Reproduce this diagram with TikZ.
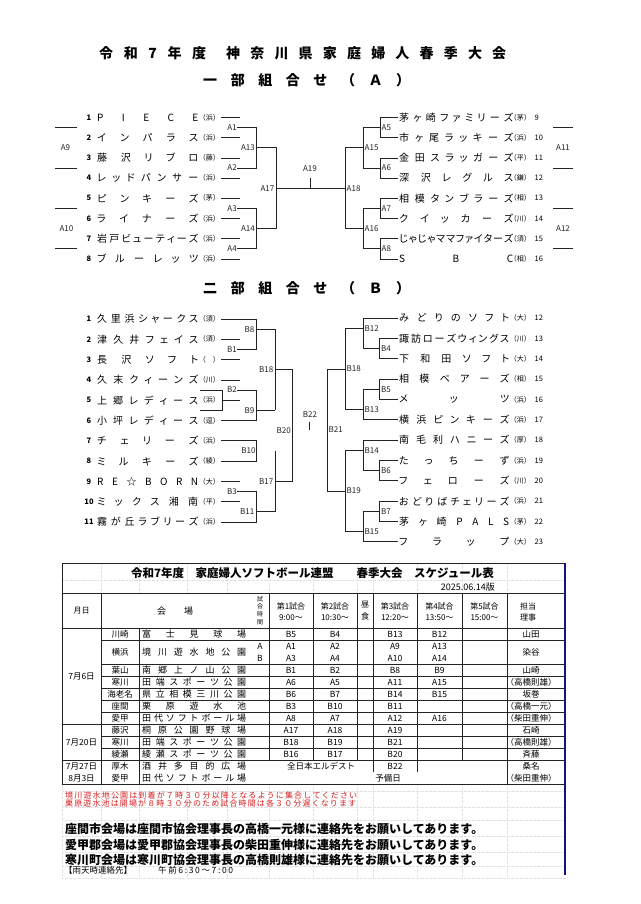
\documentclass[tikz,border=0pt]{standalone}
\usepackage{fontspec}
\setmainfont{Noto Sans CJK JP}
\newfontfamily\paltfont{Noto Sans CJK JP}[RawFeature=+palt]
\definecolor{navyb}{RGB}{20,20,120}
\definecolor{notered}{RGB}{215,30,30}
\definecolor{lnc}{RGB}{35,35,35}

\ExplSyntaxOn
\bool_new:N \l__my_first_bool
\NewDocumentCommand \dist { m m }
  {
    \makebox[#1][s]
      {
        \bool_set_true:N \l__my_first_bool
        \tl_map_inline:nn {#2}
          {
            \bool_if:NTF \l__my_first_bool
              { \bool_set_false:N \l__my_first_bool }
              { \hfill }
            ##1
          }
      }
  }
\ExplSyntaxOff

\tikzset{
  ln/.style={line width=0.75pt, draw=lnc},
  lbl/.style={font=\fontsize{8}{8}\selectfont, inner sep=0pt, text=lnc},
  team/.style={font=\paltfont\fontsize{10}{10}\selectfont, inner sep=0pt, anchor=west},
  prn/.style={font=\fontsize{7}{7}\selectfont, inner sep=0pt, anchor=east},
  numl/.style={font=\fontsize{7.5}{7.5}\selectfont\bfseries, inner sep=0pt},
  numr/.style={font=\fontsize{7.5}{7.5}\selectfont, inner sep=0pt, anchor=west},
  ttl/.style={font=\fontsize{14}{14}\selectfont\bfseries, inner sep=0pt, anchor=west},
  cell/.style={font=\fontsize{8.5}{8.5}\selectfont, inner sep=0pt},
  jcell/.style={font=\fontsize{8.5}{8.5}\selectfont, inner sep=0pt},
  venue/.style={font=\fontsize{9}{9}\selectfont, inner sep=0pt, anchor=west},
  hd/.style={font=\fontsize{8}{11}\selectfont, inner sep=0pt, align=center},
  tb/.style={line width=0.7pt, draw=lnc},
  gridl/.style={line width=0.3pt, draw=gray!22, densely dotted},
}

\newcommand\lteam[5]{%
  \node[numl] (n#1) at (89,#2) {#3};
  \node[team] (t#1) at (97,#2) {\dist{101pt}{#4}};
  \node[prn] (p#1) at (220,#2) {#5};}
\newcommand\rteam[6]{%
  \node[team] (t#1) at (399,#2) {\dist{#6}{#3}};
  \node[prn] (p#1) at (531,#2) {#4};
  \node[numr] (n#1) at (534.5,#2) {#5};}

\begin{document}
\begin{tikzpicture}[x=1pt,y=-1pt]
\fill[white] (0,0) rectangle (640,904);
\useasboundingbox (0,0) rectangle (640,904);

% ---------- titles
\node[ttl] (title1) at (99,53) {\dist{107pt}{令和7年度}};
\node[ttl] (title2) at (226,53) {\dist{280pt}{神奈川県家庭婦人春季大会}};
\node[ttl] (subA) at (203,80) {\dist{207pt}{一部組合せ（Ａ）}};
\node[ttl] (subB) at (203,288.5) {\dist{207pt}{二部組合せ（Ｂ）}};

% ---------- bracket A, left
\lteam{A1}{117.5}{1}{PIECE}{（浜）}
\lteam{A2}{137.7}{2}{インパラス}{（浜）}
\lteam{A3}{157.9}{3}{藤沢リブロ}{（藤）}
\lteam{A4}{178.1}{4}{レッドパンサー}{（浜）}
\lteam{A5}{198.3}{5}{ピンキーズ}{（茅）}
\lteam{A6}{218.5}{6}{ライナーズ}{（浜）}
\lteam{A7}{238.7}{7}{岩戸ビューティーズ}{（浜）}
\lteam{A8}{258.9}{8}{ブルーレッツ}{（浜）}
\foreach \i in {1,...,8} \draw[ln] ([xshift=1pt]pA\i.east) -- ++(19,0);

\node[lbl,anchor=east] (lA1) at (237,127.6) {A1};
\node[lbl,anchor=east] (lA2) at (237,168) {A2};
\node[lbl,anchor=east] (lA3) at (237,208.4) {A3};
\node[lbl,anchor=east] (lA4) at (237,248.8) {A4};
\draw[ln] (lA1.east) -- (256,127.6) -- (256,168) -- (lA2.east);
\draw[ln] (lA3.east) -- (256,208.4) -- (256,248.8) -- (lA4.east);
\node[lbl,anchor=east] (lA13) at (255,147.8) {A13};
\node[lbl,anchor=east] (lA14) at (255,228.6) {A14};
\draw[ln] (256,147.8) -- (276,147.8) -- (276,228.6) -- (256,228.6);
\node[lbl,anchor=east] (lA17) at (274.5,188.2) {A17};
\draw[ln] (276,188.2) -- (345,188.2);
\node[lbl] (lA19) at (310,168.5) {A19};
\draw[ln] (310,178) -- (310,188.2);

% ---------- bracket A, right
\rteam{A9}{117.5}{茅ヶ崎ファミリーズ}{（茅）}{9}{114pt}
\rteam{A10}{137.7}{市ヶ尾ラッキーズ}{（浜）}{10}{114pt}
\rteam{A11}{157.9}{金田スラッガーズ}{（平）}{11}{114pt}
\rteam{A12}{178.1}{深沢レグルス}{（鎌）}{12}{114pt}
\rteam{A13}{198.3}{相模タンブラーズ}{（相）}{13}{114pt}
\rteam{A14}{218.5}{クイッカーズ}{（川）}{14}{114pt}
\rteam{A15}{238.7}{じゃじゃママファイターズ}{（須）}{15}{114pt}
\rteam{A16}{258.9}{SBC}{（相）}{16}{114pt}

\draw[ln] (345,147.8) -- (345,228.6);
\node[lbl,anchor=west] (lA18) at (346.5,188.2) {A18};
\draw[ln] (345,147.8) -- (363,147.8) (345,228.6) -- (363,228.6);
\node[lbl,anchor=west] (lA15) at (364.5,147.8) {A15};
\node[lbl,anchor=west] (lA16) at (364.5,228.6) {A16};
\draw[ln] (380,127.6) -- (363,127.6) -- (363,168) -- (380,168);
\draw[ln] (380,208.4) -- (363,208.4) -- (363,248.8) -- (380,248.8);
\node[lbl,anchor=west] (lA5) at (381.5,127.6) {A5};
\node[lbl,anchor=west] (lA6) at (381.5,168) {A6};
\node[lbl,anchor=west] (lA7) at (381.5,208.4) {A7};
\node[lbl,anchor=west] (lA8) at (381.5,248.8) {A8};
\draw[ln] ([xshift=-1.5pt]tA9.west) -- (380,117.5) -- (380,137.7) -- ([xshift=-1.5pt]tA10.west);
\draw[ln] ([xshift=-1.5pt]tA11.west) -- (380,157.9) -- (380,178.1) -- ([xshift=-1.5pt]tA12.west);
\draw[ln] ([xshift=-1.5pt]tA13.west) -- (380,198.3) -- (380,218.5) -- ([xshift=-1.5pt]tA14.west);
\draw[ln] ([xshift=-1.5pt]tA15.west) -- (380,238.7) -- (380,258.9) -- ([xshift=-1.5pt]tA16.west);

% side slots
\node[lbl] (lA9) at (65.5,147.8) {A9};
\draw[ln] (55,127.6) -- (77,127.6) (55,168) -- (77,168);
\node[lbl] (lA10) at (66.5,228.6) {A10};
\draw[ln] (55,208.4) -- (77,208.4) (55,248.8) -- (77,248.8);
\node[lbl] (lA11) at (563,147.8) {A11};
\draw[ln] (553,127.6) -- (573,127.6) (553,168) -- (573,168);
\node[lbl] (lA12) at (563,228.6) {A12};
\draw[ln] (553,208.4) -- (573,208.4) (553,248.8) -- (573,248.8);

% ---------- bracket B, left
\lteam{B1}{319}{1}{久里浜シャークス}{（須）}
\lteam{B2}{339.3}{2}{津久井フェイス}{（須）}
\lteam{B3}{359.6}{3}{長沢ソフト}{（　）}
\lteam{B4}{379.9}{4}{久末クィーンズ}{（川）}
\lteam{B5}{400.2}{5}{上郷レディース}{（浜）}
\lteam{B6}{420.5}{6}{小坪レディース}{（逗）}
\lteam{B7}{440.8}{7}{チェリーズ}{（浜）}
\lteam{B8}{461.1}{8}{ミルキーズ}{（綾）}
\lteam{B9}{481.4}{9}{RE☆BORN}{（大）}
\lteam{B10}{501.7}{10}{ミックス湘南}{（平）}
\lteam{B11}{522}{11}{霧が丘ラブリーズ}{（浜）}
\foreach \i in {2,3,4,9,10} \draw[ln] ([xshift=1pt]pB\i.east) -- ++(19,0);
\draw[ln] (222,400.2) -- (240,400.2);
\draw[ln] (200,390) -- (222,390) -- (222,410.3) -- (200,410.3);

\node[lbl,anchor=east] (lB1) at (237,349.45) {B1};
\draw[ln] ([xshift=1pt]pB1.east) -- (256,319) -- (256,349.45) -- (lB1.east);
\node[lbl,anchor=east] (lB8) at (254.5,329.15) {B8};
\draw[ln] (256,329.15) -- (275,329.15);
\node[lbl,anchor=east] (lB2) at (237,390.05) {B2};
\draw[ln] (lB2.east) -- (256,390.05) -- (256,420.5) -- ([xshift=1pt]pB6.east);
\node[lbl,anchor=east] (lB9) at (254.5,410.35) {B9};
\draw[ln] (256,410.35) -- (275,410.35);
\draw[ln] (275,329.15) -- (275,410.35);
\node[lbl,anchor=east] (lB18) at (273.5,369.75) {B18};
\draw[ln] (275,369.75) -- (292,369.75) -- (292,481.4) -- (275,481.4);
\node[lbl,anchor=east] (lB17) at (273.5,481.4) {B17};
\node[lbl,anchor=east] (lB20) at (291,430.65) {B20};
\draw[ln] ([xshift=1pt]pB7.east) -- (256,440.8) -- (256,461.1) -- ([xshift=1pt]pB8.east);
\node[lbl] (lB10) at (248.5,450.95) {B10};
\draw[ln] (275,450.95) -- (275,511.85);
\node[lbl,anchor=east] (lB3) at (237,491.55) {B3};
\draw[ln] (lB3.east) -- (256,491.55) -- (256,522) -- ([xshift=1pt]pB11.east);
\node[lbl,anchor=east] (lB11) at (254.5,511.85) {B11};
\draw[ln] (256,511.85) -- (275,511.85);
\node[lbl] (lB22) at (310,415) {B22};
\draw[ln] (309.5,422) -- (309.5,430);

% ---------- bracket B, right
\rteam{B12}{318}{みどりのソフト}{（大）}{12}{110pt}
\rteam{B13}{338.35}{諏訪ローズウィングス}{（川）}{13}{110pt}
\rteam{B14}{358.7}{下和田ソフト}{（大）}{14}{110pt}
\rteam{B15}{379.05}{相模ベアーズ}{（相）}{15}{110pt}
\rteam{B16}{399.4}{メッツ}{（浜）}{16}{110pt}
\rteam{B17}{419.75}{横浜ピンキーズ}{（浜）}{17}{110pt}
\rteam{B18}{440.1}{南毛利ハニーズ}{（厚）}{18}{110pt}
\rteam{B19}{460.45}{たっちーず}{（浜）}{19}{110pt}
\rteam{B20}{480.8}{フェローズ}{（川）}{20}{110pt}
\rteam{B21}{501.15}{おどりばチェリーズ}{（浜）}{21}{110pt}
\rteam{B22}{521.5}{茅ヶ崎PALS}{（茅）}{22}{110pt}
\rteam{B23}{541.85}{フラップ}{（大）}{23}{110pt}

\draw[ln] (327,368.9) -- (327,490.97);
\node[lbl,anchor=west] (lB21) at (328.5,429.9) {B21};
\draw[ln] (327,368.9) -- (345,368.9);
\node[lbl,anchor=west] (lB18r) at (346.5,368.9) {B18};
\draw[ln] (363,328.2) -- (345,328.2) -- (345,409.6) -- (363,409.6);
\node[lbl,anchor=west] (lB12) at (364.5,328.2) {B12};
\node[lbl,anchor=west] (lB13) at (364.5,409.6) {B13};
\draw[ln] ([xshift=-1.5pt]tB12.west) -- (363,318) -- (363,348.5) -- (379,348.5);
\node[lbl,anchor=west] (lB4) at (381,348.5) {B4};
\draw[ln] ([xshift=-1.5pt]tB13.west) -- (379,338.35) -- (379,358.7) -- ([xshift=-1.5pt]tB14.west);
\draw[ln] (379,389.2) -- (363,389.2) -- (363,419.75) -- ([xshift=-1.5pt]tB17.west);
\node[lbl,anchor=west] (lB5) at (381,389.2) {B5};
\draw[ln] ([xshift=-1.5pt]tB15.west) -- (379,379.05) -- (379,399.4) -- ([xshift=-1.5pt]tB16.west);
\draw[ln] (327,490.97) -- (345,490.97);
\node[lbl,anchor=west] (lB19) at (346.5,490.97) {B19};
\draw[ln] (363,450.3) -- (345,450.3) -- (345,531.7) -- (363,531.7);
\node[lbl,anchor=west] (lB14) at (364.5,450.3) {B14};
\node[lbl,anchor=west] (lB15) at (364.5,531.7) {B15};
\draw[ln] ([xshift=-1.5pt]tB18.west) -- (363,440.1) -- (363,470.6) -- (379,470.6);
\node[lbl,anchor=west] (lB6) at (381,470.6) {B6};
\draw[ln] ([xshift=-1.5pt]tB19.west) -- (379,460.45) -- (379,480.8) -- ([xshift=-1.5pt]tB20.west);
\draw[ln] (379,511.3) -- (363,511.3) -- (363,541.85) -- ([xshift=-1.5pt]tB23.west);
\node[lbl,anchor=west] (lB7) at (381,511.3) {B7};
\draw[ln] ([xshift=-1.5pt]tB21.west) -- (379,501.15) -- (379,521.5) -- ([xshift=-1.5pt]tB22.west);

% ---------- schedule: faint sheet grid
\foreach \x in {101,139,187,227,269,313,357,373,417,462,507} \draw[gridl] (\x,563) -- (\x,593);
\draw[gridl] (62,580) -- (565,580);
\foreach \y in {791,807,820,836,852,866,878} \draw[gridl] (62,\y) -- (565,\y);
\foreach \x in {62,101,139,187,227,269,313,357,373,417,462,507} \draw[gridl] (\x,784) -- (\x,878);

% ---------- schedule: rules
\draw[tb] (62,563) -- (565,563);
\draw[tb] (62,563) -- (62,784);
\draw[tb] (62,593) -- (565,593);
\draw[tb] (62,628) -- (565,628);
\foreach \y in {640,664,676,688,700,712,736,748} \draw[tb] (101,\y) -- (565,\y);
\foreach \y in {724,760,784} \draw[tb] (62,\y) -- (565,\y);
\draw[tb] (101,593) -- (101,784);
\draw[tb] (139,628) -- (139,784);
\draw[tb] (269,593) -- (269,760);
\foreach \x in {313,357,462} \draw[tb] (\x,593) -- (\x,760);
\foreach \x in {373,417} \draw[tb] (\x,593) -- (\x,772);
\draw[tb] (507,593) -- (507,784);
\draw[line width=1.4pt, draw=navyb] (565,563) -- (565,875);

% ---------- schedule: titles and header
\node[font=\fontsize{11.5}{11.5}\selectfont\bfseries, inner sep=0pt] (stitle) at (312.5,573) {令和7年度　家庭婦人ソフトボール連盟　　春季大会　スケジュール表};
\node[font=\fontsize{9}{9}\selectfont, inner sep=0pt, anchor=east] (sver) at (495,587) {2025.06.14版};
\node[hd] (hdate) at (81.5,611) {月日};
\node[font=\fontsize{9}{9}\selectfont, inner sep=0pt] (hvenue) at (175,611) {会　　場};
\node[font=\fontsize{6}{7.6}\selectfont, inner sep=0pt, align=center] (htime) at (260,610.5) {試\\合\\時\\間};
\node[hd] (hg1) at (291,611.5) {第1試合\\9:00～};
\node[hd] (hg2) at (335,611.5) {第2試合\\10:30～};
\node[font=\fontsize{8}{12}\selectfont, inner sep=0pt, align=center] (hlunch) at (365,611) {昼\\食};
\node[hd] (hg3) at (395,611.5) {第3試合\\12:20～};
\node[hd] (hg4) at (439.5,611.5) {第4試合\\13:50～};
\node[hd] (hg5) at (484.5,611.5) {第5試合\\15:00～};
\node[hd] (hst) at (528,611.5) {担当\\理事};

% dates
\node[jcell] (d1) at (81.5,676) {7月6日};
\node[jcell] (d2) at (81.5,742) {7月20日};
\node[jcell] (d3) at (81.5,766) {7月27日};
\node[jcell] (d4) at (81.5,778) {8月3日};

% cities
\node[jcell] (k1) at (120,634) {川崎};
\node[jcell] (k2) at (120,652) {横浜};
\node[jcell] (k3) at (120,670) {葉山};
\node[jcell] (k4) at (120,682) {寒川};
\node[jcell] (k5) at (120,694) {海老名};
\node[jcell] (k6) at (120,706) {座間};
\node[jcell] (k7) at (120,718) {愛甲};
\node[jcell] (k8) at (120,730) {藤沢};
\node[jcell] (k9) at (120,742) {寒川};
\node[jcell] (k10) at (120,754) {綾瀬};
\node[jcell] (k11) at (120,766) {厚木};
\node[jcell] (k12) at (120,778) {愛甲};

% venues
\node[venue] (v1) at (142,634) {\dist{104pt}{富士見球場}};
\node[venue] (v2) at (142,652) {\dist{104pt}{境川遊水地公園}};
\node[venue] (v3) at (142,670) {\dist{104pt}{南郷上ノ山公園}};
\node[venue] (v4) at (142,682) {\dist{104pt}{田端スポーツ公園}};
\node[venue] (v5) at (142,694) {\dist{104pt}{県立相模三川公園}};
\node[venue] (v6) at (142,706) {\dist{104pt}{栗原遊水池}};
\node[venue] (v7) at (142,718) {\dist{104pt}{田代ソフトボール場}};
\node[venue] (v8) at (142,730) {\dist{104pt}{桐原公園野球場}};
\node[venue] (v9) at (142,742) {\dist{104pt}{田端スポーツ公園}};
\node[venue] (v10) at (142,754) {\dist{104pt}{綾瀬スポーツ公園}};
\node[venue] (v11) at (142,766) {\dist{104pt}{酒井多目的広場}};
\node[venue] (v12) at (142,778) {\dist{104pt}{田代ソフトボール場}};
\node[cell] (vA) at (260,646) {A};
\node[cell] (vB) at (260,658) {B};

% games
\node[cell] (g1a) at (291,634) {B5};   \node[cell] (g1b) at (335,634) {B4};
\node[cell] (g1c) at (395,634) {B13};  \node[cell] (g1d) at (439.5,634) {B12};
\node[cell] (g2a) at (291,646) {A1};   \node[cell] (g2b) at (335,646) {A2};
\node[cell] (g2c) at (395,646) {A9};   \node[cell] (g2d) at (439.5,646) {A13};
\node[cell] (g3a) at (291,658) {A3};   \node[cell] (g3b) at (335,658) {A4};
\node[cell] (g3c) at (395,658) {A10};  \node[cell] (g3d) at (439.5,658) {A14};
\node[cell] (g4a) at (291,670) {B1};   \node[cell] (g4b) at (335,670) {B2};
\node[cell] (g4c) at (395,670) {B8};   \node[cell] (g4d) at (439.5,670) {B9};
\node[cell] (g5a) at (291,682) {A6};   \node[cell] (g5b) at (335,682) {A5};
\node[cell] (g5c) at (395,682) {A11};  \node[cell] (g5d) at (439.5,682) {A15};
\node[cell] (g6a) at (291,694) {B6};   \node[cell] (g6b) at (335,694) {B7};
\node[cell] (g6c) at (395,694) {B14};  \node[cell] (g6d) at (439.5,694) {B15};
\node[cell] (g7a) at (291,706) {B3};   \node[cell] (g7b) at (335,706) {B10};
\node[cell] (g7c) at (395,706) {B11};
\node[cell] (g8a) at (291,718) {A8};   \node[cell] (g8b) at (335,718) {A7};
\node[cell] (g8c) at (395,718) {A12};  \node[cell] (g8d) at (439.5,718) {A16};
\node[cell] (g9a) at (291,730) {A17};  \node[cell] (g9b) at (335,730) {A18};
\node[cell] (g9c) at (395,730) {A19};
\node[cell] (g10a) at (291,742) {B18}; \node[cell] (g10b) at (335,742) {B19};
\node[cell] (g10c) at (395,742) {B21};
\node[cell] (g11a) at (291,754) {B16}; \node[cell] (g11b) at (335,754) {B17};
\node[cell] (g11c) at (395,754) {B20};
\node[jcell] (g12a) at (321,766) {全日本エルデスト};
\node[cell] (g12c) at (395,766) {B22};
\node[jcell] (g13a) at (388,778) {予備日};

% staff
\node[jcell] (s1) at (531,634) {山田};
\node[jcell] (s2) at (531,652) {染谷};
\node[jcell] (s3) at (531,670) {山崎};
\node[jcell] (s4) at (531,682) {（高橋則雄）};
\node[jcell] (s5) at (531,694) {坂巻};
\node[jcell] (s6) at (531,706) {（高橋一元）};
\node[jcell] (s7) at (531,718) {（柴田重伸）};
\node[jcell] (s8) at (531,730) {石崎};
\node[jcell] (s9) at (531,742) {（高橋則雄）};
\node[jcell] (s10) at (531,754) {斉藤};
\node[jcell] (s11) at (531,766) {桑名};
\node[jcell] (s12) at (531,778) {（柴田重伸）};

% ---------- notes
\node[font=\fontsize{8}{8}\selectfont, text=notered, inner sep=0pt, anchor=west] (note1) at (65,795) {\dist{292pt}{境川遊水地公園は到着が７時３０分以降となるように集合してください}};
\node[font=\fontsize{8}{8}\selectfont, text=notered, inner sep=0pt, anchor=west] (note2) at (65,803.5) {\dist{291pt}{栗原遊水池は開場が８時３０分のため試合時間は各３０分遅くなります}};
\node[font=\fontsize{12}{12}\selectfont\bfseries, inner sep=0pt, anchor=west] (con1) at (65,829) {座間市会場は座間市協会理事長の高橋一元様に連絡先をお願いしてあります。};
\node[font=\fontsize{12}{12}\selectfont\bfseries, inner sep=0pt, anchor=west] (con2) at (65,844.5) {愛甲郡会場は愛甲郡協会理事長の柴田重伸様に連絡先をお願いしてあります。};
\node[font=\fontsize{12}{12}\selectfont\bfseries, inner sep=0pt, anchor=west] (con3) at (65,859.5) {寒川町会場は寒川町協会理事長の高橋則雄様に連絡先をお願いしてあります。};
\node[font=\fontsize{8.5}{8.5}\selectfont, inner sep=0pt, anchor=west] (rain1) at (64,870) {【雨天時連絡先】};
\node[font=\fontsize{8.5}{8.5}\selectfont, inner sep=0pt, anchor=west] (rain2) at (158,870) {\dist{75pt}{午前6:30～7:00}};
\end{tikzpicture}
\end{document}
